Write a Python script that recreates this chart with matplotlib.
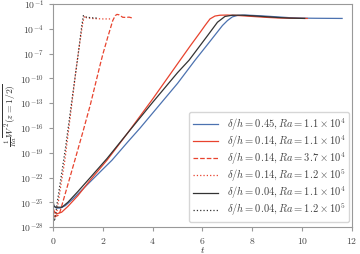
import numpy as np
import matplotlib
matplotlib.use("Agg")
import matplotlib.pyplot as plt
from matplotlib.ticker import NullLocator

plt.rcParams['mathtext.fontset'] = 'cm'
plt.rcParams['font.family'] = 'serif'

# curves: time and log10 of (1/Ra) W^2(z=1/2)
t_045_11 = [0.0, 0.05, 0.15, 0.3, 0.5, 0.8, 1.2, 1.6, 2.0, 2.37, 3.0, 3.5, 4.0, 4.5, 5.0, 5.7,
            6.2, 6.5, 6.8, 7.0, 7.2, 7.4, 7.7, 8.0, 8.5, 9.0, 9.5, 10.0, 10.5, 11.0, 11.6]
w_045_11 = [-25.0, -25.5, -25.7, -25.7, -25.4, -24.6, -23.4, -22.2, -21.0, -19.9, -17.7, -16.0,
            -14.2, -12.4, -10.6, -7.8, -5.9, -4.75, -3.6, -3.0, -2.55, -2.38, -2.33, -2.37,
            -2.45, -2.55, -2.65, -2.7, -2.72, -2.73, -2.74]

t_014_11 = [0.0, 0.05, 0.15, 0.35, 0.6, 1.0, 1.5, 2.17, 3.0, 4.0, 5.1, 5.5, 5.9, 6.1, 6.3,
            6.5, 6.7, 7.0, 7.4, 8.0, 8.5, 9.0, 9.5, 10.2]
w_014_11 = [-25.6, -26.1, -26.4, -26.2, -25.5, -24.2, -22.3, -19.9, -16.6, -12.5, -7.8, -6.1,
            -4.45, -3.6, -2.8, -2.45, -2.35, -2.33, -2.38, -2.5, -2.6, -2.68, -2.72, -2.74]

t_014_37 = [0.0, 0.1, 0.2, 0.28, 0.5, 0.88, 1.2, 1.5, 1.89, 2.0, 2.2, 2.4, 2.5, 2.57, 2.65,
            2.8, 2.95, 3.05, 3.2]
w_014_37 = [-25.8, -26.7, -26.6, -26.2, -23.9, -19.9, -16.5, -13.2, -8.4, -7.1, -5.0, -3.0,
            -2.4, -2.25, -2.3, -2.6, -2.62, -2.58, -2.7]

t_014_120 = [0.0, 0.08, 0.15, 0.3, 0.48, 0.7, 0.95, 1.1, 1.2, 1.27, 1.35, 1.6, 2.0, 2.37]
w_014_120 = [-25.8, -26.9, -26.3, -23.3, -19.9, -14.5, -8.4, -5.2, -3.2, -2.45, -2.65, -2.75,
             -2.8, -2.8]

t_004_11 = [0.0, 0.01, 0.03, 0.1, 0.2, 0.36, 0.6, 1.0, 1.5, 2.17, 3.0, 4.0, 5.0, 5.46, 6.22,
            6.6, 6.9, 7.2, 7.6, 8.0, 8.5, 9.0, 9.5, 10.1]
w_004_11 = [-22.3, -24.5, -25.4, -25.6, -25.6, -25.6, -25.0, -23.7, -22.0, -19.7, -16.6, -12.9,
            -9.3, -7.8, -4.75, -3.2, -2.5, -2.35, -2.35, -2.42, -2.52, -2.62, -2.7, -2.74]

t_004_120 = [0.0, 0.05, 0.1, 0.15, 0.3, 0.5, 0.8, 1.0, 1.15, 1.22, 1.3, 1.5, 1.8]
w_004_120 = [-25.5, -27.3, -26.8, -25.5, -22.5, -18.5, -11.8, -7.4, -3.8, -2.4, -2.55, -2.65,
             -2.7]

labels = [r'$\delta/h = 0.45, Ra = 1.1\times10^4$',
          r'$\delta/h = 0.14, Ra = 1.1\times10^4$',
          r'$\delta/h = 0.14, Ra = 3.7\times10^4$',
          r'$\delta/h = 0.14, Ra = 1.2\times10^5$',
          r'$\delta/h = 0.04, Ra = 1.1\times10^4$',
          r'$\delta/h = 0.04, Ra = 1.2\times10^5$']

blue = '#4c72b0'
red = '#e8432e'
dark = '#333333'

fig = plt.figure(figsize=(3.6, 2.54), dpi=100)
ax = fig.add_axes([0.147, 0.106, 0.831, 0.878])

series = [(t_045_11, w_045_11, blue, '-'),
          (t_014_11, w_014_11, red, '-'),
          (t_014_37, w_014_37, red, '--'),
          (t_014_120, w_014_120, red, ':'),
          (t_004_11, w_004_11, dark, '-'),
          (t_004_120, w_004_120, dark, ':')]
for (tt, ww, c, ls), lab in zip(series, labels):
    ax.plot(tt, 10.0 ** np.array(ww), color=c, ls=ls, lw=0.9, label=lab)

ax.set_yscale('log')
ax.set_xlim(0, 12)
ax.set_ylim(1e-28, 1e-1)
ax.set_xticks(range(0, 13, 2))
ax.set_xticklabels(['$%d$' % v for v in range(0, 13, 2)])
exps = list(range(-28, 0, 3))
ax.set_yticks([10.0 ** k for k in exps])
ax.set_yticklabels(['$10^{%d}$' % k for k in exps])
ax.yaxis.set_minor_locator(NullLocator())

for s in ax.spines.values():
    s.set_color('#999999')
    s.set_linewidth(0.8)
ax.tick_params(labelsize=7, colors='#999999', labelcolor='#444444', length=3, width=0.8)

ax.set_xlabel('$t$', fontsize=7, color='#333333')
ax.xaxis.set_label_coords(0.5, -0.08)
ax.set_ylabel(r'$\frac{1}{Ra}\overline{W^2(z=1/2)}$', fontsize=7, color='#333333')
ax.yaxis.set_label_coords(-0.115, 0.5)

leg = ax.legend(loc='lower right', fontsize=7.6, frameon=True, borderpad=0.35,
                labelspacing=0.05, handlelength=2.4, handletextpad=0.8,
                borderaxespad=0, bbox_to_anchor=(0.99, 0.022))
leg.get_frame().set_edgecolor('#cccccc')
for txt in leg.get_texts():
    txt.set_color('#444444')

fig.savefig('out.png', dpi=100)
